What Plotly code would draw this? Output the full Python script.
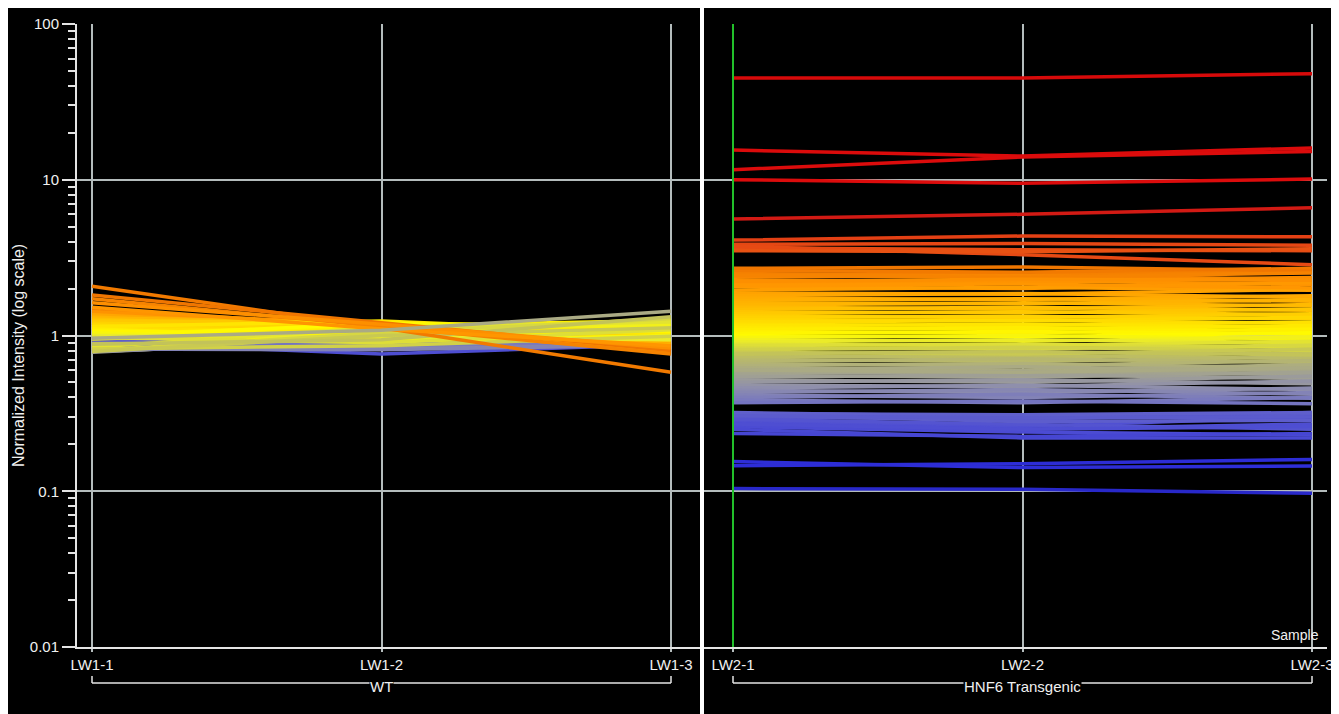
import numpy as np
import plotly.graph_objects as go

# ---------------- data ----------------
wt_samples = ["LW1-1", "LW1-2", "LW1-3"]
tg_samples = ["LW2-1", "LW2-2", "LW2-3"]
group_names = ["WT", "HNF6 Transgenic"]
y_tick_values = [0.01, 0.1, 1, 10, 100]
y_tick_labels = ["0.01", "0.1", "1", "10", "100"]
y_title = "Normalized Intensity (log scale)"
x_title = "Sample"

# WT profiles (LW1-1, LW1-2, LW1-3) per gene, in drawing order
wt_profiles = [
    # strongly up-regulated in transgenic (red / orange-red)
    [1.05, 1.00, 0.95], [1.10, 1.05, 1.15], [0.95, 1.10, 1.20], [1.00, 0.98, 1.15],
    [1.20, 1.00, 0.90], [1.15, 1.05, 1.10], [1.00, 1.10, 0.92], [0.90, 1.05, 1.20],
    [1.10, 0.95, 1.00], [1.05, 1.00, 1.17],
    # strongly down-regulated in transgenic (blue)
    [0.92, 0.88, 1.00], [0.95, 0.90, 0.98], [1.00, 0.92, 0.94], [0.96, 0.87, 0.97],
    [0.93, 0.91, 1.02], [0.98, 0.89, 0.95], [0.94, 0.86, 0.99], [1.01, 0.90, 0.93],
    [0.97, 0.88, 1.03], [0.95, 0.93, 0.96], [0.99, 0.87, 1.01], [0.93, 0.90, 0.97],
    [0.96, 0.89, 1.00], [0.98, 0.92, 0.96], [0.90, 0.76, 0.88],
    # band: grey / lavender genes
    [0.85, 0.96, 1.03], [0.89, 0.88, 0.96], [0.83, 0.97, 1.10], [0.87, 0.84, 0.98],
    [0.81, 0.92, 1.06], [0.86, 0.91, 0.92], [0.80, 0.99, 1.12], [0.84, 0.85, 0.95],
    [0.79, 0.93, 1.04], [0.82, 0.88, 0.90], [0.78, 0.96, 1.08], [0.83, 0.82, 0.94],
    [0.80, 0.90, 1.02], [0.85, 0.87, 0.88], [0.81, 0.95, 1.14], [0.84, 0.83, 0.97],
    [0.79, 0.92, 1.00], [0.86, 0.89, 0.93], [0.82, 0.81, 0.87], [0.80, 0.94, 1.05],
    [0.87, 0.86, 0.91], [0.83, 0.91, 0.99],
    # band: orange genes
    [1.45, 1.12, 0.78], [1.40, 1.15, 0.82], [1.38, 1.10, 0.85], [1.42, 1.18, 0.88],
    [1.35, 1.08, 0.80], [1.33, 1.14, 0.90], [1.30, 1.06, 0.84], [1.36, 1.12, 0.95],
    [1.28, 1.16, 0.86], [1.32, 1.05, 0.92], [1.25, 1.10, 0.98], [1.30, 1.20, 0.87],
    # band: yellow-orange genes
    [1.22, 1.02, 1.05], [1.27, 1.14, 0.93], [1.18, 1.08, 1.10], [1.24, 1.22, 0.96],
    [1.15, 1.04, 1.02], [1.20, 1.12, 1.15], [1.12, 1.18, 0.99], [1.17, 1.00, 1.08],
    [1.08, 1.10, 1.20], [1.14, 1.24, 1.04], [1.05, 1.06, 1.12],
    # band: yellow genes
    [1.10, 0.96, 0.97], [1.02, 1.15, 1.25], [1.07, 1.02, 1.06], [0.98, 1.20, 1.14],
    [1.04, 0.92, 1.00], [0.95, 1.08, 1.18], [1.00, 0.98, 0.94], [0.84, 1.13, 1.22],
    [0.97, 0.90, 1.09], [0.80, 1.04, 1.28], [0.82, 0.86, 0.99], [0.79, 1.00, 1.12],
    [0.88, 0.94, 1.32],
    # WT outliers
    [2.07, 1.12, 0.58], [1.82, 1.20, 0.80], [1.72, 1.15, 0.76], [1.62, 1.18, 0.83],
    [1.52, 1.10, 0.86], [0.96, 1.08, 1.43],
]

# HNF6 transgenic profiles (LW2-1, LW2-2, LW2-3), same gene order
tg_profiles = [
    [45.0, 45.0, 48.0], [15.5, 14.2, 16.0], [11.6, 14.0, 15.2], [10.0, 9.5, 10.1],
    [5.6, 6.0, 6.6], [4.1, 4.35, 4.3], [3.85, 3.9, 3.8], [3.65, 3.55, 3.5],
    [3.75, 3.3, 2.85], [3.5, 3.45, 3.6],
    [0.104, 0.103, 0.097], [0.155, 0.142, 0.145], [0.146, 0.150, 0.160], [0.32, 0.30, 0.31],
    [0.30, 0.29, 0.32], [0.28, 0.26, 0.30], [0.27, 0.25, 0.27], [0.26, 0.24, 0.23],
    [0.25, 0.22, 0.22], [0.235, 0.225, 0.235], [0.29, 0.27, 0.25], [0.31, 0.28, 0.285],
    [0.315, 0.31, 0.32], [0.305, 0.295, 0.30], [0.27, 0.25, 0.26],
    [0.74, 0.72, 0.78], [0.72, 0.75, 0.71], [0.70, 0.68, 0.73], [0.68, 0.71, 0.67],
    [0.66, 0.64, 0.69], [0.64, 0.66, 0.62], [0.62, 0.60, 0.65], [0.60, 0.63, 0.59],
    [0.585, 0.57, 0.61], [0.57, 0.59, 0.56], [0.555, 0.54, 0.58], [0.54, 0.56, 0.53],
    [0.52, 0.50, 0.55], [0.50, 0.52, 0.49], [0.48, 0.47, 0.51], [0.46, 0.48, 0.45],
    [0.445, 0.43, 0.46], [0.43, 0.45, 0.42], [0.415, 0.40, 0.43], [0.40, 0.42, 0.395],
    [0.385, 0.37, 0.40], [0.37, 0.38, 0.365],
    [2.50, 2.45, 2.62], [2.38, 2.42, 2.30], [2.28, 2.20, 2.36], [2.16, 2.25, 2.12],
    [2.06, 2.00, 2.18], [1.96, 2.04, 1.95], [1.88, 1.84, 1.98], [1.80, 1.86, 1.76],
    [1.74, 1.70, 1.80], [1.68, 1.72, 1.66], [1.62, 1.60, 1.70], [1.57, 1.62, 1.55],
    [1.52, 1.48, 1.58], [1.47, 1.52, 1.45], [1.42, 1.40, 1.48], [1.38, 1.42, 1.36],
    [1.34, 1.30, 1.38], [1.30, 1.33, 1.28], [1.26, 1.24, 1.31], [1.22, 1.25, 1.20],
    [1.18, 1.16, 1.22], [1.15, 1.18, 1.13], [1.12, 1.10, 1.16],
    [1.09, 1.12, 1.07], [1.06, 1.04, 1.10], [1.03, 1.06, 1.02], [1.00, 0.98, 1.04],
    [0.97, 1.00, 0.95], [0.94, 0.92, 0.98], [0.91, 0.94, 0.90], [0.88, 0.86, 0.92],
    [0.86, 0.88, 0.84], [0.83, 0.82, 0.87], [0.81, 0.84, 0.80], [0.78, 0.76, 0.82],
    [0.76, 0.79, 0.75],
    [2.62, 2.55, 2.70], [2.70, 2.75, 2.60], [2.44, 2.36, 2.52], [2.22, 2.30, 2.26],
    [2.10, 2.14, 2.02], [0.60, 0.58, 0.62],
]

# ---------------- style ----------------
# the page body adds an 8px white margin; the figure sits inside it
FIG_W, FIG_H = 1325, 706
M_L, M_R, M_T, M_B = 69, 6, 16, 67
PW = FIG_W - M_L - M_R
PH = FIG_H - M_T - M_B
SPACING = 289.5          # px between samples
NEAR_PAD, FAR_PAD = 15, 31
OFF = 8                  # page offset of the figure

FONT = "Liberation Sans, Arial, sans-serif"
GRID = "#b4bcbc"
AXIS = "#e4e4e4"
TXT = "#f0f0f0"
LINE_W = 3.5

# gene colour by transgenic LW2-1 value (GeneSpring-like ramp)
anchor_logs = [-1.0, -0.82, -0.55, -0.42, -0.33, -0.24, -0.12, -0.04, 0.0,
               0.1, 0.2, 0.33, 0.43, 0.55, 0.63, 0.75, 1.0, 1.7]
anchor_rgb = [(40, 40, 200), (45, 45, 215), (80, 80, 210), (120, 120, 190),
              (145, 145, 170), (165, 165, 140), (195, 195, 90), (235, 235, 40),
              (255, 250, 0), (255, 215, 0), (255, 180, 0), (255, 148, 0),
              (240, 118, 0), (232, 80, 20), (225, 60, 20), (210, 25, 20),
              (220, 12, 12), (215, 10, 10)]


def gene_color(v):
    lv = np.log10(v)
    ch = [int(round(np.interp(lv, anchor_logs, [c[i] for c in anchor_rgb]))) for i in range(3)]
    return "rgb({},{},{})".format(*ch)


def px_x(page_px):
    return (page_px - OFF - M_L) / PW


def px_y(page_py):
    return (FIG_H - M_B - (page_py - OFF)) / PH


fig = go.Figure()
for wt, tg in zip(wt_profiles, tg_profiles):
    col = gene_color(tg[0])
    fig.add_trace(go.Scatter(x=wt_samples, y=wt, xaxis="x", yaxis="y", mode="lines",
                             line=dict(color=col, width=LINE_W), hoverinfo="skip",
                             showlegend=False))
    fig.add_trace(go.Scatter(x=tg_samples, y=tg, xaxis="x2", yaxis="y", mode="lines",
                             line=dict(color=col, width=LINE_W), hoverinfo="skip",
                             showlegend=False))

xcommon = dict(type="category", showgrid=True, gridcolor=GRID, gridwidth=2,
               showline=True, linecolor=AXIS, linewidth=2, ticks="outside", ticklen=3,
               tickwidth=2, tickcolor=GRID, tickfont=dict(family=FONT, size=15, color=TXT),
               anchor="y", automargin=False, fixedrange=True)

minor_vals = [m * 10.0 ** e for e in range(-2, 2) for m in range(2, 10)]

fig.update_layout(
    width=FIG_W, height=FIG_H,
    margin=dict(l=M_L, r=M_R, t=M_T, b=M_B, pad=0),
    paper_bgcolor="black", plot_bgcolor="black",
    font=dict(family=FONT, color=TXT),
    xaxis=dict(domain=[0, 0.5], categoryorder="array", categoryarray=wt_samples,
               range=[-NEAR_PAD / SPACING, 2 + FAR_PAD / SPACING], **xcommon),
    xaxis2=dict(domain=[0.5, 1], categoryorder="array", categoryarray=tg_samples,
                range=[-FAR_PAD / SPACING, 2 + NEAR_PAD / SPACING], **xcommon),
    yaxis=dict(type="log", range=[-2, 2], tickmode="array", tickvals=y_tick_values,
               ticktext=y_tick_labels, showgrid=True, gridcolor=GRID, gridwidth=2,
               showline=True, linecolor=AXIS, linewidth=2, ticks="outside", ticklen=13,
               tickwidth=2, tickcolor=AXIS, tickfont=dict(family=FONT, size=15, color=TXT),
               minor=dict(tickmode="array", tickvals=minor_vals, ticks="outside", ticklen=7,
                          tickwidth=2, tickcolor=AXIS, showgrid=False),
               automargin=False, fixedrange=True, zeroline=False),
    showlegend=False,
)

shapes = []
# panel separator
shapes.append(dict(type="line", xref="paper", yref="paper", x0=0.5, x1=0.5,
                   y0=px_y(714), y1=px_y(OFF), line=dict(color="white", width=4),
                   layer="above"))
# green marker at colour-by sample
shapes.append(dict(type="line", xref="x2", yref="paper", x0=tg_samples[0], x1=tg_samples[0],
                   y0=0, y1=1, line=dict(color="#22c02a", width=2), layer="above"))
# group brackets
for xr, samples in [("x", wt_samples), ("x2", tg_samples)]:
    yb, yh = px_y(683), px_y(676)
    shapes.append(dict(type="line", xref=xr, yref="paper", x0=samples[0], x1=samples[-1],
                       y0=yb, y1=yb, line=dict(color=AXIS, width=1.5)))
    for s in (samples[0], samples[-1]):
        shapes.append(dict(type="line", xref=xr, yref="paper", x0=s, x1=s, y0=yb, y1=yh,
                           line=dict(color=AXIS, width=1.5)))
fig.update_layout(shapes=shapes)

annotations = [
    dict(text=group_names[0], xref="x", yref="paper", x=wt_samples[1], y=px_y(686),
         yanchor="middle", showarrow=False, bgcolor="black", borderpad=0,
         font=dict(family=FONT, size=15, color=TXT)),
    dict(text=group_names[1], xref="x2", yref="paper", x=tg_samples[1], y=px_y(686),
         yanchor="middle", showarrow=False, bgcolor="black", borderpad=0,
         font=dict(family=FONT, size=15, color=TXT)),
    dict(text=x_title, xref="paper", yref="paper", x=px_x(1321), y=px_y(635),
         xanchor="right", yanchor="middle", showarrow=False,
         font=dict(family=FONT, size=14, color=TXT)),
    dict(text=y_title, xref="paper", yref="paper", x=px_x(18), y=px_y(356),
         textangle=-90, xanchor="center", yanchor="middle", showarrow=False,
         font=dict(family=FONT, size=16, color=TXT)),
]
fig.update_layout(annotations=annotations)

fig.write_html("out.html")
